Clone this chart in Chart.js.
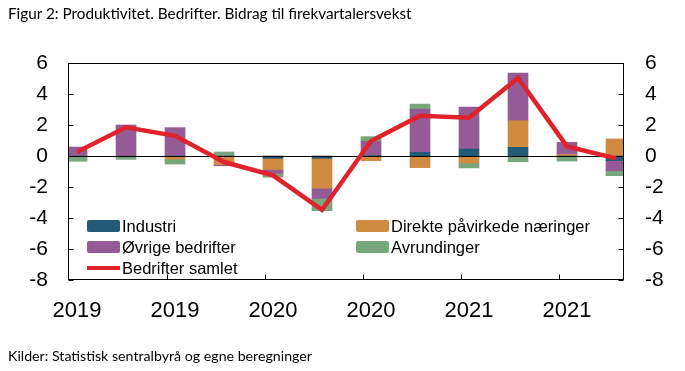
<!DOCTYPE html>
<html>
<head>
<meta charset="utf-8">
<script src="https://cdn.jsdelivr.net/npm/chart.js@4"></script>
<style>
html,body{margin:0;padding:0;background:#fff;}
#wrap{position:relative;width:685px;height:371px;overflow:hidden;}
#c{position:absolute;left:0;top:0;}
.txt{position:absolute;left:8px;font-family:Lato,"Open Sans",sans-serif;color:#000;white-space:nowrap;}
#title{top:4px;font-size:15.3px;}
#src{top:347px;font-size:14.2px;}
</style>
</head>
<body>
<div id="wrap">
<canvas id="c" width="685" height="371"></canvas>
<div class="txt" id="title">Figur 2: Produktivitet. Bedrifter. Bidrag til firekvartalersvekst</div>
<div class="txt" id="src">Kilder: Statistisk sentralbyrå og egne beregninger</div>
</div>
<script>
// Quarters (2019K1 .. 2021K4)
const quarters = ['2019K1','2019K2','2019K3','2019K4','2020K1','2020K2','2020K3','2020K4','2021K1','2021K2','2021K3','2021K4'];
const tickLabels = ['2019','','2019','','2020','','2020','','2021','','2021',''];
const industri    = [0, 0, 0, 0, -0.15, -0.15, 0.03, 0.24, 0.45, 0.56, 0, -0.3];
const direkte     = [0, 0, -0.2, -0.55, -0.72, -1.93, -0.3, -0.75, -0.45, 1.72, 0.1, 1.1];
const ovrige      = [0.58, 2.0, 1.83, -0.08, -0.25, -0.65, 0.92, 2.79, 2.7, 3.07, 0.78, -0.65];
const avrundinger = [-0.34, -0.22, -0.32, 0.26, -0.25, -0.8, 0.3, 0.32, -0.32, -0.37, -0.33, -0.32];
const samlet      = [0.26, 1.85, 1.3, -0.39, -1.25, -3.48, 0.97, 2.6, 2.47, 5.03, 0.62, -0.15];
const yTicks = [-8, -6, -4, -2, 0, 2, 4, 6];

const pts = arr => arr.map((v, i) => ({x: i, y: v}));
const FONT = '"Liberation Sans", Arial, sans-serif';

const framePlugin = {
  id: 'frame',
  beforeDatasetDraw(chart, args) {
    if (args.meta.type !== 'line') return;
    const a = chart.chartArea, y0 = Math.round(chart.scales.y.getPixelForValue(0)) + 0.5;
    const ctx = chart.ctx;
    ctx.save();
    ctx.strokeStyle = '#000'; ctx.lineWidth = 1;
    ctx.beginPath(); ctx.moveTo(a.left, y0); ctx.lineTo(a.right, y0); ctx.stroke();
    ctx.restore();
  },
  afterDraw(chart) {
    const a = chart.chartArea, ctx = chart.ctx;
    const ys = chart.scales.y, xs = chart.scales.x;
    ctx.save();
    ctx.strokeStyle = '#000'; ctx.lineWidth = 1;
    const L = Math.round(a.left) + 0.5, R = Math.round(a.right) - 0.5;
    const T = Math.round(a.top) + 0.5, B = Math.round(a.bottom) - 0.5;
    ctx.strokeRect(L, T, R - L, B - T);
    ctx.beginPath();
    yTicks.forEach(v => {
      const p = Math.round(ys.getPixelForValue(v)) + 0.5;
      ctx.moveTo(L, p); ctx.lineTo(L + 5, p);
      ctx.moveTo(R, p); ctx.lineTo(R - 5, p);
    });
    for (let k = 2; k < quarters.length; k += 2) {
      const p = Math.round(xs.getPixelForValue(k - 0.17)) + 0.5;
      ctx.moveTo(p, B); ctx.lineTo(p, B - 5);
    }
    ctx.stroke();
    // legend
    const ds = chart.data.datasets;
    const cols = [87, 356];
    const rows = [226, 247, 268];
    ctx.font = '16.5px ' + FONT;
    ctx.textBaseline = 'middle';
    ds.forEach((d, n) => {
      const cx = cols[n % 2], cy = rows[Math.floor(n / 2)];
      if (d.type === 'line') {
        ctx.strokeStyle = d.borderColor; ctx.lineWidth = 4;
        ctx.beginPath(); ctx.moveTo(cx, cy); ctx.lineTo(cx + 33, cy); ctx.stroke();
      } else {
        ctx.fillStyle = d.backgroundColor;
        ctx.beginPath();
        if (ctx.roundRect) ctx.roundRect(cx, cy - 6, 33, 12, 2); else ctx.rect(cx, cy - 6, 33, 12);
        ctx.fill();
      }
      ctx.fillStyle = '#000';
      ctx.fillText(d.label, cx + 35, cy + 1);
    });
    ctx.restore();
  }
};

const barCommon = {type: 'bar', barThickness: 20, xAxisID: 'x', yAxisID: 'y', order: 1, borderWidth: 0};

new Chart(document.getElementById('c'), {
  data: {
    datasets: [
      Object.assign({label: 'Industri', data: pts(industri), backgroundColor: '#235A78'}, barCommon),
      Object.assign({label: 'Direkte påvirkede næringer', data: pts(direkte), backgroundColor: '#D08A41'}, barCommon),
      Object.assign({label: 'Øvrige bedrifter', data: pts(ovrige), backgroundColor: '#955B97'}, barCommon),
      Object.assign({label: 'Avrundinger', data: pts(avrundinger), backgroundColor: '#78A77D'}, barCommon),
      {type: 'line', label: 'Bedrifter samlet', data: pts(samlet), borderColor: '#E0232B', backgroundColor: '#E0232B',
       borderWidth: 4.5, pointRadius: 0, tension: 0, xAxisID: 'x', yAxisID: 'y2', order: 0, borderJoinStyle: 'miter'}
    ]
  },
  options: {
    responsive: false,
    animation: false,
    devicePixelRatio: 1,
    layout: {padding: {top: 63, left: 0, right: 0, bottom: 0}},
    plugins: {legend: {display: false}, tooltip: {enabled: false}, title: {display: false}},
    scales: {
      x: {
        type: 'linear', stacked: true, offset: false, min: -0.184, max: 11.163,
        afterBuildTicks: s => { s.ticks = tickLabels.map((t, i) => ({value: i})); },
        afterFit: s => { s.height = 91; },
        grid: {display: false, drawTicks: false, offset: false},
        border: {display: false},
        ticks: {autoSkip: false, maxRotation: 0, padding: 18, color: '#000',
                font: {family: FONT, size: 22},
                callback: (v) => tickLabels[Math.round(v)] ?? ''}
      },
      y: {
        position: 'left', stacked: true, min: -8, max: 6,
        afterBuildTicks: s => { s.ticks = yTicks.map(v => ({value: v})); },
        afterFit: s => { s.width = 68; },
        grid: {display: false, drawTicks: false},
        border: {display: false},
        ticks: {padding: 20, color: '#000', font: {family: FONT, size: 21}}
      },
      y2: {
        position: 'right', stacked: false, min: -8, max: 6,
        afterBuildTicks: s => { s.ticks = yTicks.map(v => ({value: v})); },
        afterFit: s => { s.width = 61; },
        grid: {display: false, drawTicks: false},
        border: {display: false},
        ticks: {padding: 21, color: '#000', font: {family: FONT, size: 21}}
      }
    }
  },
  plugins: [framePlugin]
});
</script>
</body>
</html>
